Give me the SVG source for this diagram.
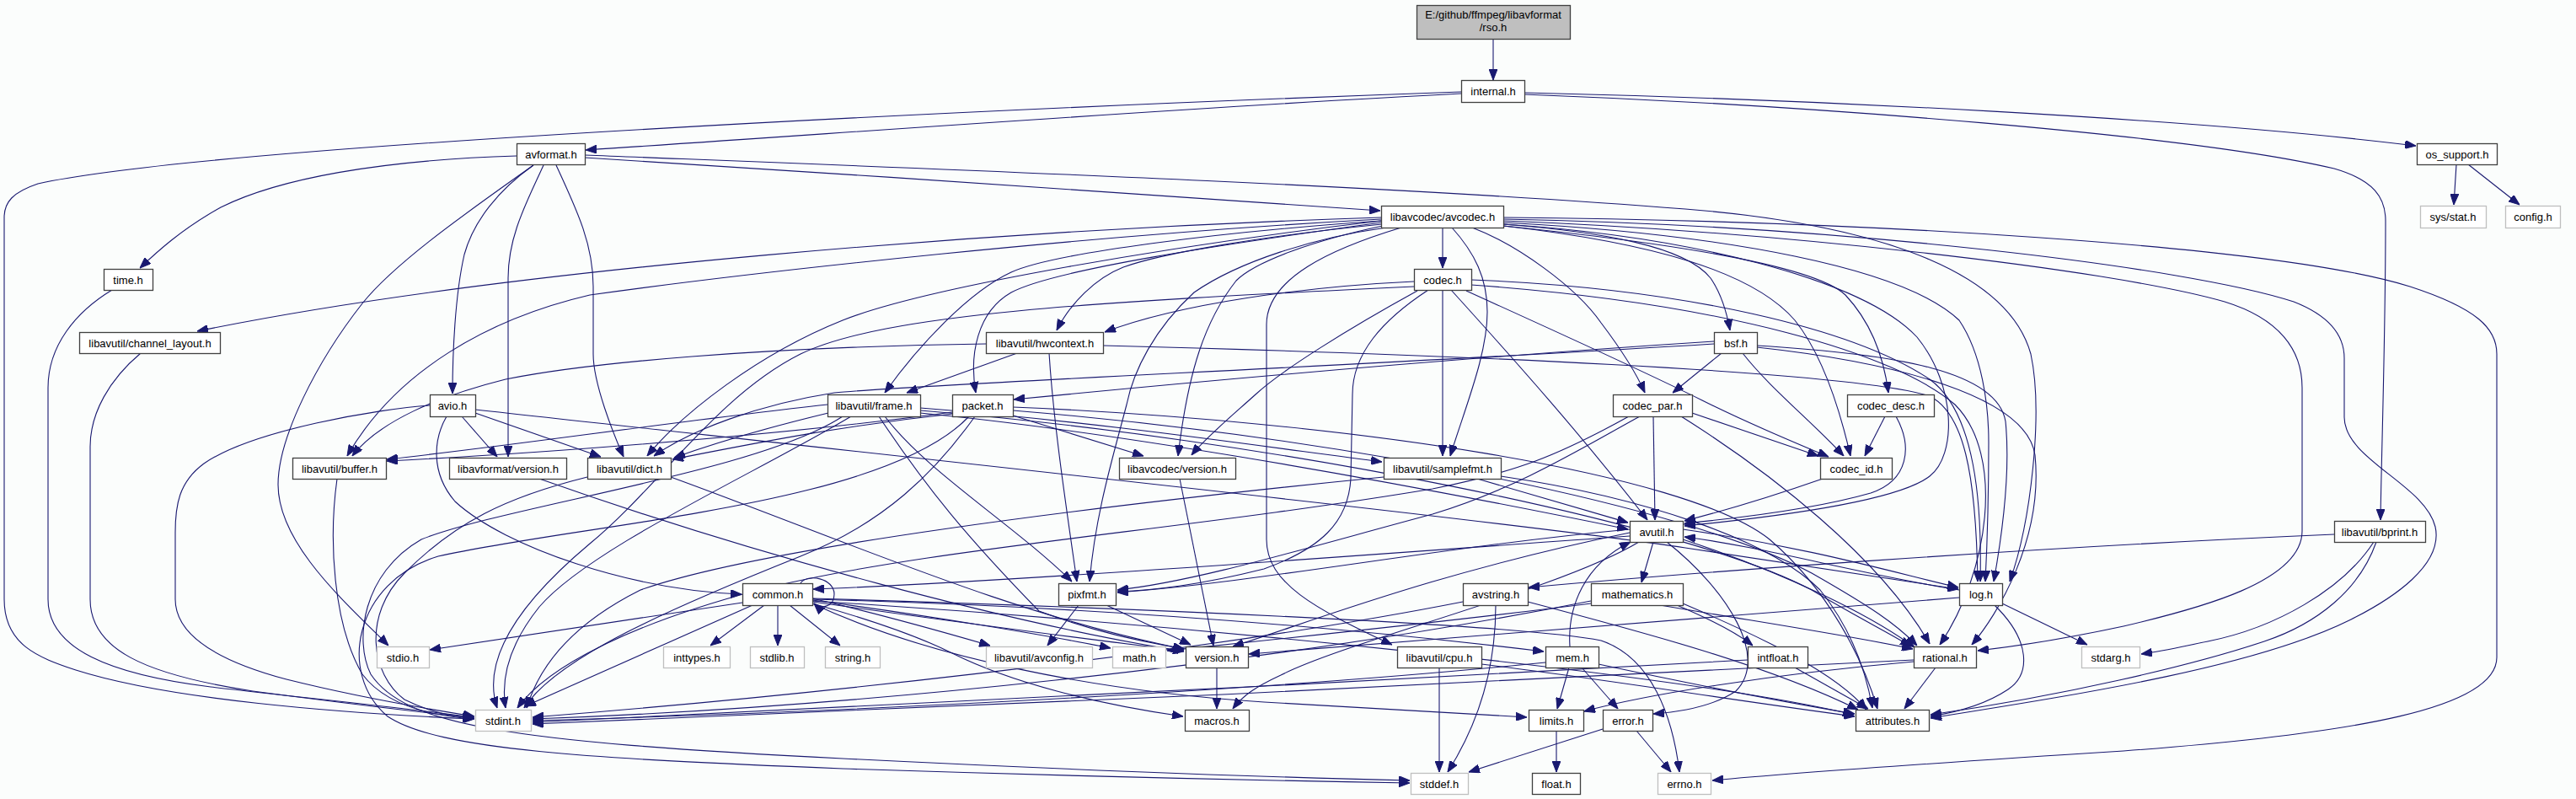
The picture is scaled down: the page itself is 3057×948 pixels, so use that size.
<svg xmlns="http://www.w3.org/2000/svg" width="3057" height="948" viewBox="0 0 3057 948">
<defs>
<marker id="a" markerUnits="userSpaceOnUse" markerWidth="13" markerHeight="10" refX="13" refY="5" orient="auto"><path d="M0,0 L13,5 L0,10 z" fill="#191970" stroke="#191970" stroke-width="1"/></marker>
<style>
.e{fill:none;stroke:#191970;stroke-width:1.1;marker-end:url(#a)}
.n rect{fill:#ffffff;stroke:#404040;stroke-width:1.3}
.g rect{fill:#ffffff;stroke:#bfbfbf;stroke-width:1.3}
text{font-family:"Liberation Sans",Arial,sans-serif;font-size:13px;text-anchor:middle;fill:#000}
</style>
</defs>
<rect x="0" y="0" width="3057" height="948" fill="#fbfdfc"/>
<g id="connectors">
<path class="e" d="M1772,46 L1772,95"/>
<path class="e" d="M1734,111 C1400,128 1000,158 695,178"/>
<path class="e" d="M1734,109 C1200,128 250,172 45,218 C15,228 5,240 5,258 L5,711 C5,765 45,780 90,795 C200,830 400,846 563,853"/>
<path class="e" d="M1809,110 C2150,118 2600,140 2867,173"/>
<path class="e" d="M1809,112 C2150,125 2600,160 2770,200 C2818,214 2831,235 2831,262 C2831,400 2826,540 2825,617"/>
<path class="e" d="M613,185 C450,190 330,212 262,246 C215,272 185,300 166,318"/>
<path class="e" d="M633,196 C560,248 470,310 430,360 C375,430 330,520 330,575 C330,645 410,715 461,766"/>
<path class="e" d="M633,196 C592,225 562,262 551,302 C540,350 537,420 537,467"/>
<path class="e" d="M645,196 C625,240 603,280 603,330 L603,542"/>
<path class="e" d="M660,196 C685,250 704,290 704,340 L704,420 C704,455 728,515 740,542"/>
<path class="e" d="M694,187 C1000,205 1400,235 1638,250"/>
<path class="e" d="M694,184 C1100,200 1650,220 2000,248 C2250,268 2385,330 2410,420 C2425,490 2410,620 2385,690"/>
<path class="e" d="M510,481 C450,485 300,510 242,550 C212,572 208,600 208,632 L208,711 C208,762 280,790 340,806 C420,826 500,840 563,850"/>
<path class="e" d="M530,494 C515,520 510,560 540,595 C600,650 750,700 880,705"/>
<path class="e" d="M548,494 L590,542"/>
<path class="e" d="M564,490 L713,542"/>
<path class="e" d="M564,486 C1100,545 1800,620 2000,650 C2150,672 2260,690 2324,699"/>
<path class="e" d="M1712,270 L1712,318"/>
<path class="e" d="M1639,258 C1200,272 600,318 234,393"/>
<path class="e" d="M1639,260 C1300,278 900,322 700,350 C580,378 470,440 412,541"/>
<path class="e" d="M1639,262 C1400,290 1100,340 1000,380 C900,420 810,490 768,541"/>
<path class="e" d="M1639,262 C1450,275 1250,300 1200,323 C1150,346 1090,410 1050,466"/>
<path class="e" d="M1640,266 C1500,280 1380,300 1333,317 C1300,330 1270,360 1254,392"/>
<path class="e" d="M1639,264 C1450,290 1250,320 1200,347 C1160,370 1150,420 1158,466"/>
<path class="e" d="M1641,268 C1560,285 1490,310 1467,333 C1430,380 1410,440 1398,541"/>
<path class="e" d="M1645,270 C1560,282 1470,310 1417,347 C1370,390 1345,440 1337,480 C1320,545 1300,610 1293,690"/>
<path class="e" d="M1663,270 C1580,295 1503,330 1503,385 L1503,640 C1503,692 1560,722 1652,765"/>
<path class="e" d="M1723,270 C1750,300 1765,330 1765,370 C1765,420 1740,480 1721,541"/>
<path class="e" d="M1747,270 C1800,290 1870,340 1900,383 C1928,420 1945,450 1952,466"/>
<path class="e" d="M1784,266 C1900,275 2000,292 2030,330 C2045,352 2050,375 2053,392"/>
<path class="e" d="M1784,268 C1950,285 2150,312 2190,350 C2220,382 2235,420 2241,466"/>
<path class="e" d="M1784,268 C1960,288 2080,322 2130,380 C2162,420 2182,480 2196,541"/>
<path class="e" d="M1784,266 C2000,280 2210,330 2275,400 C2322,458 2322,540 2290,565 C2250,596 2100,614 1999,624"/>
<path class="e" d="M1784,264 C2050,278 2260,318 2325,380 C2352,420 2360,480 2360,525 C2360,600 2358,650 2356,690"/>
<path class="e" d="M1784,262 C2100,274 2500,318 2640,358 C2705,378 2732,415 2732,460 L2732,630 C2732,690 2610,722 2520,743 C2450,758 2400,766 2347,772"/>
<path class="e" d="M1784,260 C2200,268 2600,318 2722,358 C2768,376 2782,400 2782,425 L2782,495 C2782,545 2878,575 2890,625 C2900,670 2840,710 2790,735 C2680,790 2480,822 2291,852"/>
<path class="e" d="M1784,258 C2200,262 2700,290 2860,340 C2940,366 2963,390 2963,420 L2963,780 C2963,840 2800,870 2520,891 C2300,905 2150,915 2032,926"/>
<path class="e" d="M1678,334 C1550,340 1400,360 1311,394"/>
<path class="e" d="M1678,340 C1300,358 1050,372 950,420 C850,470 780,580 700,645 C620,712 570,780 590,840"/>
<path class="e" d="M1722,344 C1800,430 1880,520 1955,617"/>
<path class="e" d="M1746,332 C2000,342 2200,390 2290,450 C2345,490 2352,600 2350,690"/>
<path class="e" d="M1695,344 C1640,380 1605,420 1605,468 L1603,568 C1600,620 1567,651 1500,675 C1420,695 1370,700 1326,702"/>
<path class="e" d="M1746,338 C2050,360 2250,420 2320,480 C2380,540 2360,680 2302,765"/>
<path class="e" d="M1712,344 L1712,541"/>
<path class="e" d="M1740,345 C1850,395 1950,440 2020,475 C2080,505 2130,525 2170,542"/>
<path class="e" d="M1682,345 C1600,390 1520,440 1490,468 C1460,495 1430,520 1414,540"/>
<path class="e" d="M2237,494 L2213,541"/>
<path class="e" d="M2250,494 C2270,530 2265,570 2220,585 C2150,605 2060,615 1999,621"/>
<path class="e" d="M2163,568 C2100,590 2050,605 1999,618"/>
<path class="e" d="M1962,494 L1964,617"/>
<path class="e" d="M2008,490 L2158,541"/>
<path class="e" d="M1995,494 C2100,560 2230,660 2290,764"/>
<path class="e" d="M1946,494 C1880,530 1800,580 1700,610 C1550,650 1420,690 1326,700"/>
<path class="e" d="M1933,494 C1850,540 1800,560 1700,580 C1400,630 1100,650 900,700 C750,740 650,790 614,840"/>
<path class="e" d="M2034,408 C1600,435 1100,455 990,466 C900,480 820,510 776,541"/>
<path class="e" d="M2034,405 C1800,420 1500,445 1203,474"/>
<path class="e" d="M2043,419 L1985,466"/>
<path class="e" d="M2068,419 C2100,460 2150,500 2188,541"/>
<path class="e" d="M2085,410 C2250,420 2370,440 2380,500 C2386,560 2375,640 2366,690"/>
<path class="e" d="M2085,412 C2250,430 2405,470 2415,540 C2425,640 2370,730 2340,765"/>
<path class="e" d="M1130,489 C900,520 600,540 459,547"/>
<path class="e" d="M1131,491 C1000,505 900,525 798,545"/>
<path class="e" d="M1150,494 C1050,600 700,620 520,660 C420,690 400,800 460,850 C520,890 700,900 1000,912 C1300,922 1500,926 1673,929"/>
<path class="e" d="M1157,494 C1110,560 1050,620 950,660 C800,720 660,780 622,840"/>
<path class="e" d="M1202,483 C1600,500 2000,560 2100,640 C2170,700 2210,780 2228,841"/>
<path class="e" d="M1202,487 C1600,520 2000,600 2150,680 C2220,720 2250,740 2275,766"/>
<path class="e" d="M1202,493 L1357,541"/>
<path class="e" d="M1092,490 C1300,510 1600,560 1932,628"/>
<path class="e" d="M982,480 C800,500 600,530 459,545"/>
<path class="e" d="M983,490 C900,510 850,525 800,543"/>
<path class="e" d="M1000,494 C900,560 600,600 500,640 C430,680 420,760 440,800 C480,860 600,880 1000,900 C1300,915 1500,922 1673,926"/>
<path class="e" d="M1010,494 C900,560 700,650 640,720 C600,770 595,810 600,840"/>
<path class="e" d="M1092,484 C1300,500 1500,530 1640,548"/>
<path class="e" d="M1050,494 C1100,560 1200,620 1272,690"/>
<path class="e" d="M1092,487 C1500,520 2000,620 2150,700 C2200,730 2240,750 2268,767"/>
<path class="e" d="M1043,494 C1100,580 1150,640 1233,725 C1300,750 1350,760 1405,770"/>
<path class="e" d="M1170,408 C900,412 700,430 600,450 C520,470 450,500 418,541"/>
<path class="e" d="M1207,419 L1076,466"/>
<path class="e" d="M1309,410 C1700,420 2200,440 2290,470 C2330,490 2345,560 2347,690"/>
<path class="e" d="M1245,419 C1250,500 1265,600 1278,690"/>
<path class="e" d="M1753,568 C1830,590 1880,605 1932,620"/>
<path class="e" d="M1642,566 C1300,600 900,650 760,700 C680,740 640,790 625,840"/>
<path class="e" d="M1781,565 C1950,590 2100,640 2160,700 C2200,750 2215,800 2222,840"/>
<path class="e" d="M1934,636 C1600,660 1200,690 965,699"/>
<path class="e" d="M1997,628 C2150,650 2250,680 2324,697"/>
<path class="e" d="M1997,640 C2120,680 2220,730 2272,768"/>
<path class="e" d="M1978,643 C2050,700 2100,780 2060,820 C2030,840 1990,845 1962,847"/>
<path class="e" d="M1934,632 C1700,680 1550,740 1463,767"/>
<path class="e" d="M1945,643 C1850,700 1600,760 1520,801 C1490,815 1475,825 1463,841"/>
<path class="e" d="M1962,643 L1948,691"/>
<path class="e" d="M1934,628 C1700,650 1500,690 1326,703"/>
<path class="e" d="M2325,700 C2200,680 2100,650 1999,637"/>
<path class="e" d="M2376,716 L2477,765"/>
<path class="e" d="M2367,718 C2410,760 2410,800 2383,818 C2350,840 2310,847 2291,850"/>
<path class="e" d="M2325,709 C2000,735 1700,760 1482,776"/>
<path class="e" d="M2770,634 C2400,650 2000,680 1814,697"/>
<path class="e" d="M2817,643 C2780,700 2700,745 2620,761 C2590,767 2570,772 2541,776"/>
<path class="e" d="M2820,643 C2800,700 2750,740 2687,761 C2600,790 2450,825 2291,848"/>
<path class="e" d="M881,715 L510,771"/>
<path class="e" d="M907,718 L843,766"/>
<path class="e" d="M923,718 L923,766"/>
<path class="e" d="M937,718 L997,766"/>
<path class="e" d="M893,718 L623,838"/>
<path class="e" d="M950,692 C958,680 990,686 990,705 C990,722 972,722 966,716"/>
<path class="e" d="M964,710 C1050,730 1120,750 1175,766"/>
<path class="e" d="M964,712 C1100,730 1250,755 1318,769"/>
<path class="e" d="M964,714 C1150,740 1300,760 1405,772"/>
<path class="e" d="M964,716 C1050,740 1100,760 1130,775 C1200,810 1300,835 1404,850"/>
<path class="e" d="M964,711 C1300,720 1600,745 1832,773"/>
<path class="e" d="M964,716 C1100,780 1300,820 1500,833 C1650,842 1750,848 1812,851"/>
<path class="e" d="M964,710 C1300,720 1800,740 1900,760 C1960,780 1985,850 1993,916"/>
<path class="e" d="M964,713 C1400,740 2000,800 2200,848"/>
<path class="e" d="M1280,718 L1243,766"/>
<path class="e" d="M1313,718 L1413,765"/>
<path class="e" d="M1775,718 C1775,780 1760,850 1718,916"/>
<path class="e" d="M1736,714 C1400,780 900,830 632,851"/>
<path class="e" d="M1813,714 C1950,750 2100,790 2205,842"/>
<path class="e" d="M1888,713 C1500,790 1000,840 632,853"/>
<path class="e" d="M1888,716 C1700,740 1500,760 1385,772"/>
<path class="e" d="M1997,716 C2100,760 2180,800 2215,842"/>
<path class="e" d="M1970,718 C2100,740 2200,755 2270,770"/>
<path class="e" d="M1990,718 C2030,735 2060,750 2080,766"/>
<path class="e" d="M1863,767 C1860,720 1880,670 1935,643"/>
<path class="e" d="M1862,792 L1848,841"/>
<path class="e" d="M1877,792 L1920,841"/>
<path class="e" d="M1834,786 C1500,820 1000,845 632,855"/>
<path class="e" d="M1897,788 C2000,810 2100,830 2201,847"/>
<path class="e" d="M1708,792 L1708,916"/>
<path class="e" d="M1758,788 C1900,805 2050,830 2201,850"/>
<path class="e" d="M2074,783 C1600,810 1000,840 632,857"/>
<path class="e" d="M2130,792 L2217,841"/>
<path class="e" d="M2271,785 C2100,800 1950,825 1880,844"/>
<path class="e" d="M2297,792 L2260,841"/>
<path class="e" d="M2271,783 C1800,810 1100,840 632,859"/>
<path class="e" d="M1902,865 L1743,916"/>
<path class="e" d="M1942,867 L1983,916"/>
<path class="e" d="M1847,867 L1847,916"/>
<path class="e" d="M1444,792 L1444,841"/>
<path class="e" d="M1400,568 L1440,766"/>
<path class="e" d="M697,566 C600,590 540,620 480,680 C430,730 440,800 480,830 C510,845 535,850 563,852"/>
<path class="e" d="M796,566 C1000,640 1200,730 1405,770"/>
<path class="e" d="M640,568 C900,660 1200,740 1405,773"/>
<path class="e" d="M400,568 C390,640 395,740 430,800 C460,840 520,850 562,853"/>
<path class="e" d="M133,344 C90,370 57,410 57,460 L57,711 C57,770 130,800 250,815 C380,830 480,840 562,851"/>
<path class="e" d="M167,419 C130,450 107,490 107,530 L107,711 C107,770 170,800 300,820 C420,836 500,845 562,852"/>
<path class="e" d="M2915,195 L2912,243"/>
<path class="e" d="M2929,195 L2990,243"/>
</g>
<g id="node-rso"><rect x="1681.5" y="6.5" width="182" height="40" fill="#bfbfbf" stroke="#404040" stroke-width="1.3"/><text x="1772" y="22">E:/github/ffmpeg/libavformat</text><text x="1772" y="37">/rso.h</text></g>
<g id="node-internal" class="n"><rect x="1734.5" y="95.5" width="75" height="26"/><text x="1772" y="112.5">internal.h</text></g>
<g id="node-avformat" class="n"><rect x="613.5" y="170.5" width="81" height="25"/><text x="654" y="187.5">avformat.h</text></g>
<g id="node-avcodec" class="n"><rect x="1639.5" y="244.5" width="145" height="26"/><text x="1712" y="262">libavcodec/avcodec.h</text></g>
<g id="node-os_support" class="n"><rect x="2868.5" y="170.5" width="95" height="25"/><text x="2916" y="187.5">os_support.h</text></g>
<g id="node-sysstat" class="g"><rect x="2872.5" y="244.5" width="78" height="26"/><text x="2911" y="262">sys/stat.h</text></g>
<g id="node-config" class="g"><rect x="2973.5" y="244.5" width="65" height="26"/><text x="3006" y="262">config.h</text></g>
<g id="node-time" class="n"><rect x="123.5" y="319.5" width="58" height="25"/><text x="152" y="336.5">time.h</text></g>
<g id="node-codec" class="n"><rect x="1678.5" y="319.5" width="68" height="25"/><text x="1712" y="336.5">codec.h</text></g>
<g id="node-channel_layout" class="n"><rect x="94.5" y="394.5" width="167" height="25"/><text x="178" y="411.5">libavutil/channel_layout.h</text></g>
<g id="node-hwcontext" class="n"><rect x="1170.5" y="394.5" width="139" height="25"/><text x="1240" y="411.5">libavutil/hwcontext.h</text></g>
<g id="node-bsf" class="n"><rect x="2034.5" y="394.5" width="51" height="25"/><text x="2060" y="411.5">bsf.h</text></g>
<g id="node-avio" class="n"><rect x="510.5" y="468.5" width="54" height="26"/><text x="537" y="486">avio.h</text></g>
<g id="node-frame" class="n"><rect x="982.5" y="468.5" width="110" height="26"/><text x="1037" y="486">libavutil/frame.h</text></g>
<g id="node-packet" class="n"><rect x="1130.5" y="468.5" width="72" height="26"/><text x="1166" y="486">packet.h</text></g>
<g id="node-codec_par" class="n"><rect x="1914.5" y="468.5" width="94" height="26"/><text x="1961" y="486">codec_par.h</text></g>
<g id="node-codec_desc" class="n"><rect x="2192.5" y="468.5" width="103" height="26"/><text x="2244" y="486">codec_desc.h</text></g>
<g id="node-buffer" class="n"><rect x="347.5" y="543.5" width="111" height="25"/><text x="403" y="560.5">libavutil/buffer.h</text></g>
<g id="node-lavf_version" class="n"><rect x="533.5" y="543.5" width="139" height="25"/><text x="603" y="560.5">libavformat/version.h</text></g>
<g id="node-dict" class="n"><rect x="697.5" y="543.5" width="99" height="25"/><text x="747" y="560.5">libavutil/dict.h</text></g>
<g id="node-lavc_version" class="n"><rect x="1328.5" y="543.5" width="138" height="25"/><text x="1397" y="560.5">libavcodec/version.h</text></g>
<g id="node-samplefmt" class="n"><rect x="1642.5" y="543.5" width="139" height="25"/><text x="1712" y="560.5">libavutil/samplefmt.h</text></g>
<g id="node-codec_id" class="n"><rect x="2160.5" y="543.5" width="85" height="25"/><text x="2203" y="560.5">codec_id.h</text></g>
<g id="node-avutil" class="n"><rect x="1934.5" y="618.5" width="63" height="25"/><text x="1966" y="635.5">avutil.h</text></g>
<g id="node-bprint" class="n"><rect x="2770.5" y="618.5" width="108" height="25"/><text x="2824" y="635.5">libavutil/bprint.h</text></g>
<g id="node-common" class="n"><rect x="881.5" y="692.5" width="83" height="26"/><text x="923" y="710">common.h</text></g>
<g id="node-pixfmt" class="n"><rect x="1256.5" y="692.5" width="68" height="26"/><text x="1290" y="710">pixfmt.h</text></g>
<g id="node-avstring" class="n"><rect x="1736.5" y="692.5" width="77" height="26"/><text x="1775" y="710">avstring.h</text></g>
<g id="node-mathematics" class="n"><rect x="1888.5" y="692.5" width="109" height="26"/><text x="1943" y="710">mathematics.h</text></g>
<g id="node-log" class="n"><rect x="2325.5" y="692.5" width="51" height="26"/><text x="2351" y="710">log.h</text></g>
<g id="node-stdio" class="g"><rect x="447.5" y="767.5" width="62" height="25"/><text x="478" y="784.5">stdio.h</text></g>
<g id="node-inttypes" class="g"><rect x="787.5" y="767.5" width="79" height="25"/><text x="827" y="784.5">inttypes.h</text></g>
<g id="node-stdlib" class="g"><rect x="890.5" y="767.5" width="64" height="25"/><text x="922" y="784.5">stdlib.h</text></g>
<g id="node-string" class="g"><rect x="979.5" y="767.5" width="65" height="25"/><text x="1012" y="784.5">string.h</text></g>
<g id="node-avconfig" class="g"><rect x="1170.5" y="767.5" width="126" height="25"/><text x="1233" y="784.5">libavutil/avconfig.h</text></g>
<g id="node-math" class="g"><rect x="1320.5" y="767.5" width="63" height="25"/><text x="1352" y="784.5">math.h</text></g>
<g id="node-version" class="n"><rect x="1407.5" y="767.5" width="74" height="25"/><text x="1444" y="784.5">version.h</text></g>
<g id="node-cpu" class="n"><rect x="1658.5" y="767.5" width="100" height="25"/><text x="1708" y="784.5">libavutil/cpu.h</text></g>
<g id="node-mem" class="n"><rect x="1834.5" y="767.5" width="63" height="25"/><text x="1866" y="784.5">mem.h</text></g>
<g id="node-intfloat" class="n"><rect x="2074.5" y="767.5" width="71" height="25"/><text x="2110" y="784.5">intfloat.h</text></g>
<g id="node-rational" class="n"><rect x="2271.5" y="767.5" width="74" height="25"/><text x="2308" y="784.5">rational.h</text></g>
<g id="node-stdarg" class="g"><rect x="2470.5" y="767.5" width="69" height="25"/><text x="2505" y="784.5">stdarg.h</text></g>
<g id="node-stdint" class="g"><rect x="564.5" y="842.5" width="66" height="25"/><text x="597" y="859.5">stdint.h</text></g>
<g id="node-macros" class="n"><rect x="1406.5" y="842.5" width="76" height="25"/><text x="1444" y="859.5">macros.h</text></g>
<g id="node-limits" class="n"><rect x="1814.5" y="842.5" width="65" height="25"/><text x="1847" y="859.5">limits.h</text></g>
<g id="node-error" class="n"><rect x="1902.5" y="842.5" width="59" height="25"/><text x="1932" y="859.5">error.h</text></g>
<g id="node-attributes" class="n"><rect x="2202.5" y="842.5" width="87" height="25"/><text x="2246" y="859.5">attributes.h</text></g>
<g id="node-stddef" class="g"><rect x="1674.5" y="917.5" width="68" height="25"/><text x="1708" y="934.5">stddef.h</text></g>
<g id="node-float" class="n"><rect x="1818.5" y="917.5" width="57" height="25"/><text x="1847" y="934.5">float.h</text></g>
<g id="node-errno" class="g"><rect x="1967.5" y="917.5" width="63" height="25"/><text x="1999" y="934.5">errno.h</text></g>
</svg>
